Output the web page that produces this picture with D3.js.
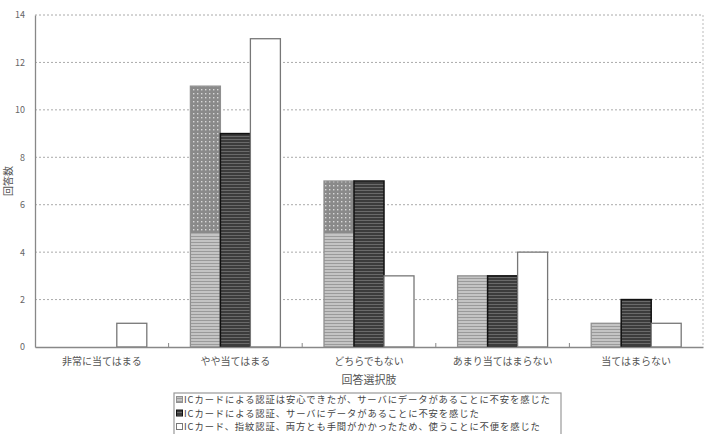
<!DOCTYPE html>
<html><head><meta charset="utf-8">
<script src="https://cdn.jsdelivr.net/npm/d3@7"></script>
<style>
body{margin:0;background:#fff;}
text{font-family:"Noto Sans CJK JP","Noto Sans",sans-serif;}
</style></head>
<body><svg id="c" width="712" height="434"></svg>
<script>
const categories = ["非常に当てはまる","やや当てはまる","どちらでもない","あまり当てはまらない","当てはまらない"];
const seriesNames = [
  "ICカードによる認証は安心できたが、サーバにデータがあることに不安を感じた",
  "ICカードによる認証、サーバにデータがあることに不安を感じた",
  "ICカード、指紋認証、両方とも手間がかかったため、使うことに不便を感じた"
];
const series1 = [0, 11, 7, 3, 1];
const series2 = [0, 9, 7, 3, 2];
const series3 = [1, 13, 3, 4, 1];
const yTicks = [0, 2, 4, 6, 8, 10, 12, 14];
const yTitle = "回答数";
const xTitle = "回答選択肢";

const svg = d3.select("#c");
const M = {l:35, r:703, t:15, b:347};
const x = d3.scaleBand().domain(categories).range([M.l, M.r]).padding(0);
const y = d3.scaleLinear().domain([0,14]).range([M.b, M.t]);
const barW = 30;

const defs = svg.append("defs");
const p1a = defs.append("pattern").attr("id","p1a").attr("patternUnits","userSpaceOnUse").attr("width",4).attr("height",4);
p1a.append("rect").attr("width",4).attr("height",4).attr("fill","#8a8a8a");
p1a.append("rect").attr("x",1).attr("y",1).attr("width",1.4).attr("height",1.4).attr("fill","#d8d8d8");
const p1b = defs.append("pattern").attr("id","p1b").attr("patternUnits","userSpaceOnUse").attr("width",4).attr("height",3);
p1b.append("rect").attr("width",4).attr("height",3).attr("fill","#c4c4c4");
p1b.append("rect").attr("y",2).attr("width",4).attr("height",1).attr("fill","#9a9a9a");
const p1 = defs.append("pattern").attr("id","p1").attr("patternUnits","userSpaceOnUse")
  .attr("x",0).attr("y",0).attr("width",712).attr("height",434);
p1.append("rect").attr("width",712).attr("height",y(4.8)).attr("fill","url(#p1a)");
p1.append("rect").attr("y",y(4.8)).attr("width",712).attr("height",434-y(4.8)).attr("fill","url(#p1b)");
const p2 = defs.append("pattern").attr("id","p2").attr("patternUnits","userSpaceOnUse").attr("width",4).attr("height",3);
p2.append("rect").attr("width",4).attr("height",3).attr("fill","#3c3c3c");
p2.append("rect").attr("y",1).attr("width",4).attr("height",1).attr("fill","#6a6a6a");

const fills = ["url(#p1)","url(#p2)","#ffffff"];
const strokes = ["#909090","#111111","#777777"];
const allSeries = [series1, series2, series3];

svg.append("g").selectAll("line").data(yTicks.filter(d=>d>0)).join("line")
  .attr("x1",M.l).attr("x2",M.r).attr("y1",d=>y(d)).attr("y2",d=>y(d))
  .attr("stroke","#aaa").attr("stroke-width",1).attr("stroke-dasharray","2,2");
svg.append("line").attr("x1",M.r).attr("x2",M.r).attr("y1",M.t).attr("y2",M.b)
  .attr("stroke","#bbb").attr("stroke-dasharray","2,2");

allSeries.forEach((s,i)=>{
  svg.append("g").selectAll("rect").data(s.map((v,j)=>({v,c:categories[j]}))).join("rect")
    .filter(d=>d.v>0)
    .attr("x",d=>x(d.c)+x.bandwidth()/2 - 1.5*barW + i*barW)
    .attr("y",d=>y(d.v))
    .attr("width",barW).attr("height",d=>y(0)-y(d.v))
    .attr("fill",fills[i]).attr("stroke",strokes[i]).attr("stroke-width",i===1?1.5:1.3);
});

const ya = svg.append("g").attr("transform",`translate(${M.l},0)`)
  .call(d3.axisLeft(y).tickValues(yTicks).tickSize(0).tickPadding(10));
ya.select(".domain").attr("stroke","#888").attr("stroke-width",1.3);
ya.selectAll("text").attr("font-size",9).attr("fill","#666").attr("font-family","Arial, Liberation Sans, sans-serif");

const xa = svg.append("g").attr("transform",`translate(0,${M.b})`)
  .call(d3.axisBottom(x).tickSize(0).tickPadding(11));
xa.select(".domain").attr("stroke","#888").attr("stroke-width",1.3);
xa.selectAll("text").attr("font-size",10).attr("fill","#555");
svg.append("g").selectAll("line").data(categories.slice(1)).join("line")
  .attr("x1",d=>x(d)).attr("x2",d=>x(d)).attr("y1",M.b).attr("y2",M.b-4)
  .attr("stroke","#888");

svg.append("text").attr("x",(M.l+M.r)/2).attr("y",384).attr("text-anchor","middle")
  .attr("font-size",11).attr("fill","#555").text(xTitle);
svg.append("text").attr("transform","translate(12,181) rotate(-90)").attr("text-anchor","middle")
  .attr("font-size",10).attr("fill","#555").text(yTitle);

const lg = svg.append("g");
lg.append("rect").attr("x",174).attr("y",393).attr("width",387).attr("height",50)
  .attr("fill","#fff").attr("stroke","#999").attr("stroke-width",1.2);
seriesNames.forEach((n,i)=>{
  const yy = 400 + i*13.5;
  lg.append("rect").attr("x",176.5).attr("y",yy-3.5).attr("width",6).attr("height",6)
    .attr("fill",i===0?"url(#p1b)":fills[i]).attr("stroke",strokes[i]);
  lg.append("text").attr("x",184).attr("y",yy+3.3).attr("font-size",9.3)
    .attr("letter-spacing",0.9).attr("fill","#444").text(n);
});
</script></body></html>
